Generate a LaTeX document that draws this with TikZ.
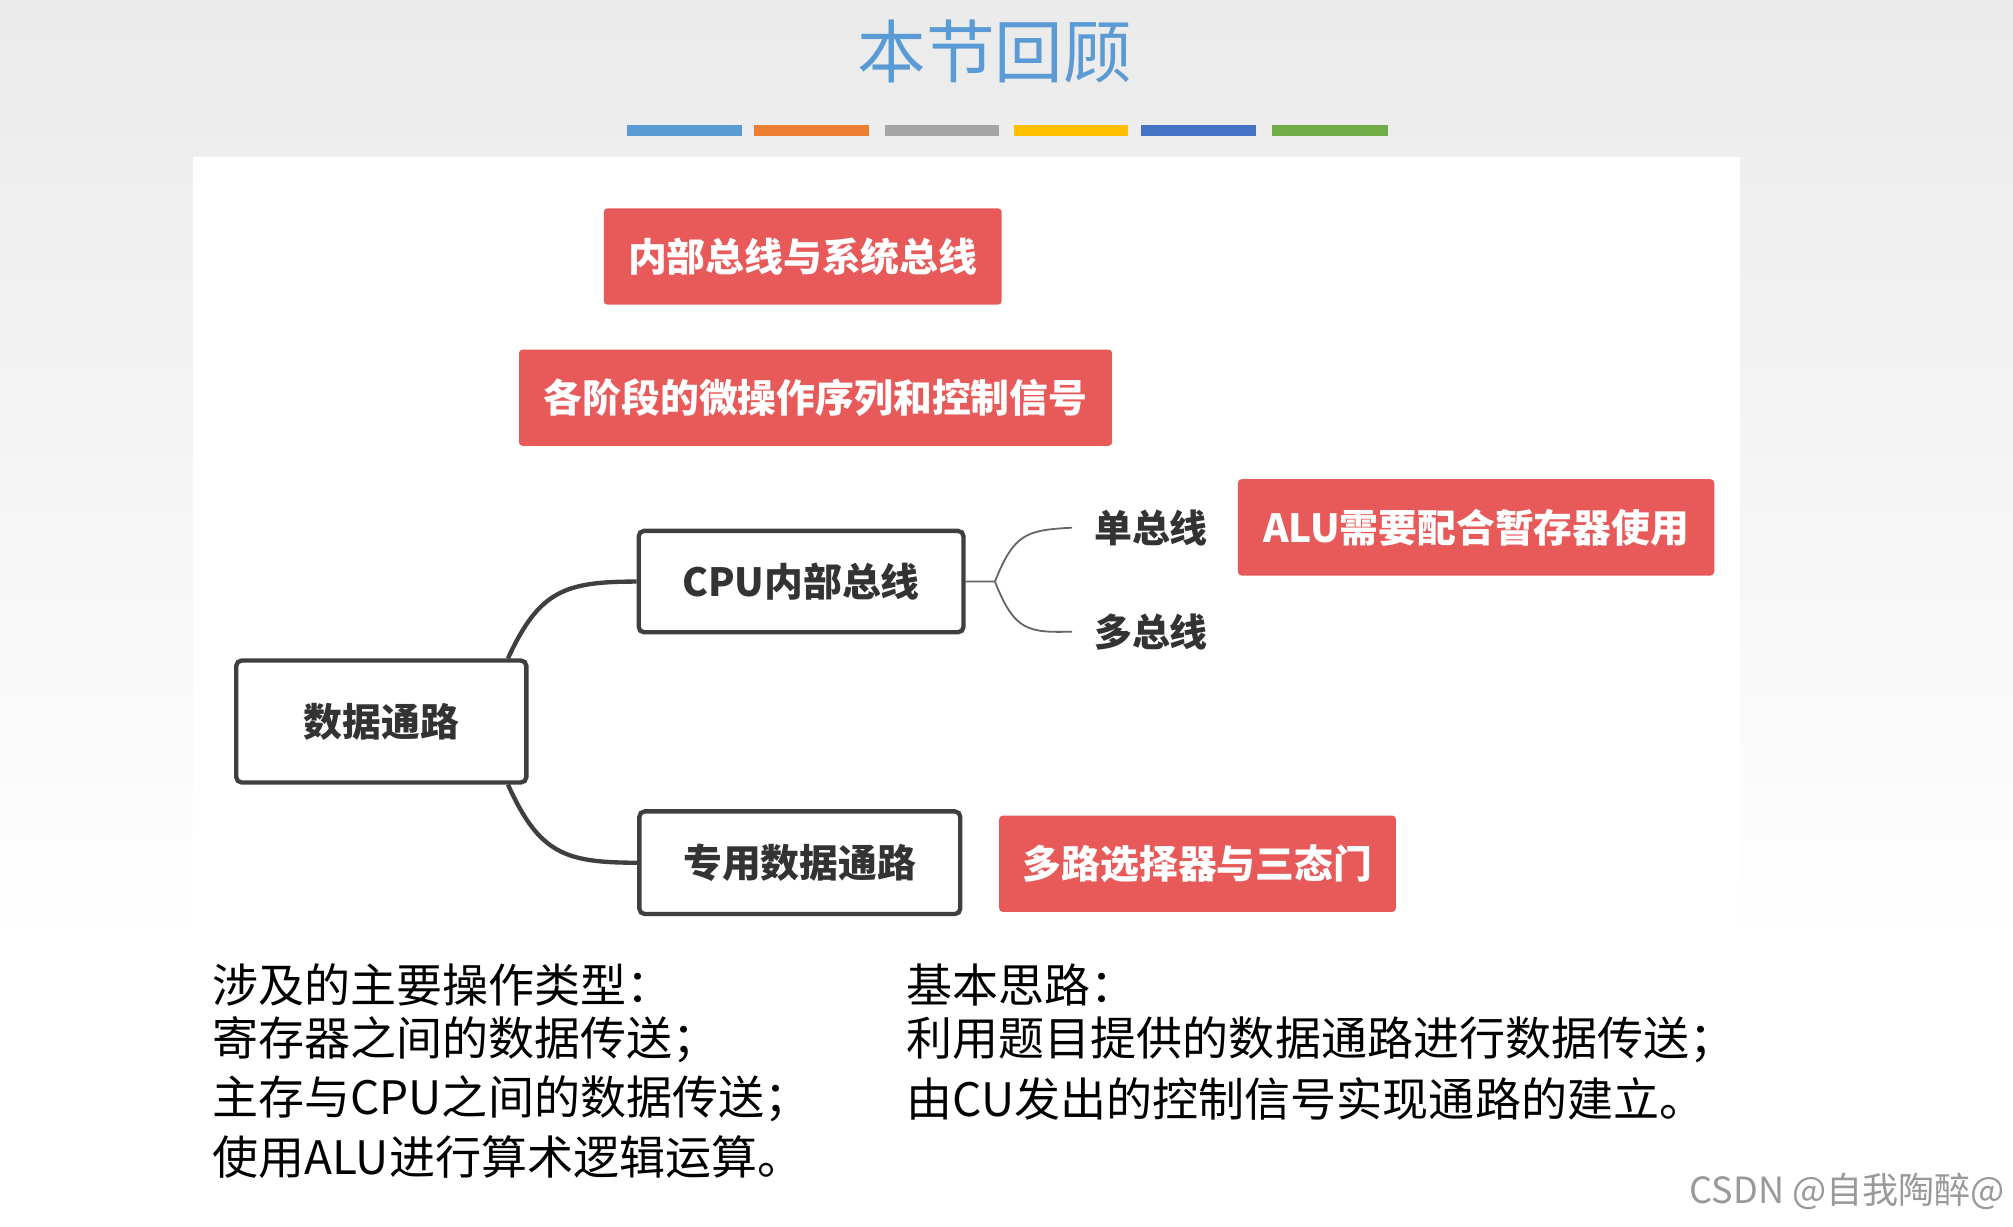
\documentclass[tikz,border=0pt]{standalone}
\usepackage{fontspec}
\setmainfont{Noto Sans CJK SC}
\begin{document}
\begin{tikzpicture}[x=0.025cm,y=-0.025cm,
  redbox/.style={fill=boxred,rounded corners=2pt,text=white,font=\fontsize{21.5}{25}\selectfont\bfseries,anchor=north west,inner sep=0pt,align=center},
  graybox/.style={draw=boxgray,line width=2.4pt,rounded corners=3pt,fill=white,text=textgray,font=\fontsize{21.5}{25}\selectfont\bfseries,inner sep=0pt,align=center},
  thick conn/.style={draw=boxgray,line width=2.4pt},
  thin conn/.style={draw=boxgray!80,line width=1pt},
  bt/.style={anchor=west,font=\fontsize{25.5}{29}\selectfont,inner sep=0pt}]
\definecolor{boxred}{HTML}{E85A5A}
\definecolor{boxgray}{HTML}{3F3F3F}
\definecolor{textgray}{HTML}{333333}
\definecolor{titleblue}{HTML}{5B9BD5}
\useasboundingbox (0,0) rectangle (1568,955);
\shade[top color=black!8,bottom color=white] (0,0) rectangle (1568,740);
\fill[white] (0,740) rectangle (1568,955);
\fill[white] (150,122) rectangle (1355,740);
\node[text=titleblue,font=\fontsize{38}{44}\selectfont] (title) at (775,40) {本节回顾};
\foreach \a/\b/\c in {488/578/5B9BD5,587/677/ED7D31,689/778/A5A5A5,790/879/FFC000,889/978/4472C4,991/1081/70AD47}{
  \definecolor{tmp}{HTML}{\c}\fill[tmp] (\a,97) rectangle (\b,106);}
\node[redbox,minimum width=310*0.025cm,minimum height=75*0.025cm] (r1) at (470,162) {内部总线与系统总线};
\node[redbox,minimum width=462*0.025cm,minimum height=75*0.025cm] (r2) at (404,272) {各阶段的微操作序列和控制信号};
\node[redbox,minimum width=371*0.025cm,minimum height=75*0.025cm] (r3) at (964,373) {ALU需要配合暂存器使用};
\node[redbox,minimum width=309*0.025cm,minimum height=75*0.025cm] (r4) at (778,635) {多路选择器与三态门};
\node[graybox,minimum width=226*0.025cm,minimum height=95*0.025cm] (dp) at (297,562) {数据通路};
\node[graybox,minimum width=253*0.025cm,minimum height=79*0.025cm] (cpu) at (624,453) {CPU内部总线};
\node[graybox,minimum width=250*0.025cm,minimum height=80*0.025cm] (sp) at (623,672) {专用数据通路};
\node[text=textgray,font=\fontsize{21}{25}\selectfont\bfseries,anchor=west,inner sep=0pt] (single) at (852,411) {单总线};
\node[text=textgray,font=\fontsize{21}{25}\selectfont\bfseries,anchor=west,inner sep=0pt] (multi) at (852,492) {多总线};
\draw[thick conn] ([xshift=-0.4cm]dp.north east) .. controls (420,460) and (440,453) .. (cpu.west);
\draw[thick conn] ([xshift=-0.4cm]dp.south east) .. controls (420,665) and (440,672) .. (sp.west);
\coordinate (j) at (775,453);
\draw[thin conn] (cpu.east) -- (j) .. controls (790,415) and (800,413) .. ([xshift=-12]single.west);
\draw[thin conn] (j) .. controls (790,491) and (800,493) .. ([xshift=-12]multi.west);
\node[bt] (l1) at (165,767) {涉及的主要操作类型：};
\node[bt] (l2) at (165,810) {寄存器之间的数据传送；};
\node[bt] (l3) at (165,856) {主存与CPU之间的数据传送；};
\node[bt] (l4) at (165,901) {使用ALU进行算术逻辑运算。};
\node[bt] (m1) at (706,767) {基本思路：};
\node[bt] (m2) at (706,810) {利用题目提供的数据通路进行数据传送；};
\node[bt] (m3) at (706,856) {由CU发出的控制信号实现通路的建立。};
\node[anchor=east,text=black!40,font=\fontsize{20}{23}\selectfont,inner sep=0pt] (csdn) at (1562,928) {CSDN @自我陶醉@};
\end{tikzpicture}
\end{document}
